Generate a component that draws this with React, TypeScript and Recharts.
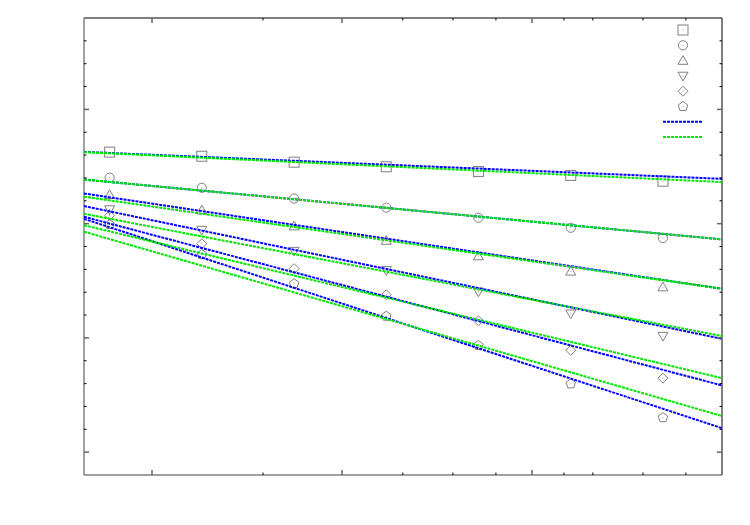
import React from 'react';
import { ComposedChart, Scatter, XAxis, YAxis, Legend } from 'recharts';

// x positions of the measurements (axis units: major ticks at 0, 1, 2)
const xValues = [-0.223, 0.262, 0.748, 1.233, 1.718, 2.204, 2.689];

// measured series (y axis units: major ticks at 0, 5, 10, 15)
const squareSeries = [13.13, 12.95, 12.69, 12.49, 12.28, 12.11, 11.86];
const circleSeries = [12.01, 11.57, 11.1, 10.7, 10.26, 9.82, 9.37];
const triangleUpSeries = [11.26, 10.59, 9.89, 9.26, 8.58, 7.91, 7.22];
const triangleDownSeries = [10.62, 9.72, 8.8, 7.96, 7.02, 6.06, 5.08];
const diamondSeries = [10.36, 9.12, 8.03, 6.89, 5.75, 4.46, 3.24];
const pentagonSeries = [9.96, 8.65, 7.37, 5.95, 4.67, 2.99, 1.51];

// fitted lines: values at the left and right ends of the x range
const fitX = [-0.358, 3];
const blueFitStart = [13.14, 11.93, 11.32, 10.77, 10.3, 10.21];
const blueFitEnd = [11.96, 9.31, 7.15, 4.96, 2.92, 1.05];
const greenFitStart = [13.13, 11.93, 11.18, 10.43, 9.93, 9.65];
const greenFitEnd = [11.82, 9.31, 7.15, 5.08, 3.24, 1.58];

// ticks (no labels in the original)
const xMajorTicks = [0, 1, 2];
const xMinorTicks = [0.584, 1.32, 1.584, 1.81, 2.168, 2.32, 2.584, 2.81];
const yMajorTicks = [0, 5, 10, 15];
const yMinorTicks = [1, 2, 3, 4, 6, 7, 8, 9, 11, 12, 13, 14, 16, 17, 18];

const xDomain = [-0.358, 3];
const yDomain = [-1, 19];

const markerKinds = ['square', 'circle', 'triUp', 'triDown', 'diamond', 'pentagon'];
const seriesList = [squareSeries, circleSeries, triangleUpSeries, triangleDownSeries, diamondSeries, pentagonSeries];

const MARKER = '#808080';
const BLUE = '#0000ff';
const GREEN = '#00e600';

function Marker({ kind, cx, cy }: { kind: string; cx: number; cy: number }) {
  const common = { fill: 'none', stroke: MARKER, strokeWidth: 1 };
  let el: React.ReactNode = null;
  const r = 5;
  if (kind === 'square') {
    el = <rect x={cx - r} y={cy - r} width={2 * r} height={2 * r} {...common} />;
  } else if (kind === 'circle') {
    el = <circle cx={cx} cy={cy} r={4.6} {...common} />;
  } else if (kind === 'triUp') {
    el = <polygon points={`${cx},${cy - 5} ${cx - 5},${cy + 3.7} ${cx + 5},${cy + 3.7}`} {...common} />;
  } else if (kind === 'triDown') {
    el = <polygon points={`${cx},${cy + 5} ${cx - 5},${cy - 3.7} ${cx + 5},${cy - 3.7}`} {...common} />;
  } else if (kind === 'diamond') {
    el = <polygon points={`${cx},${cy - 5} ${cx + 5},${cy} ${cx},${cy + 5} ${cx - 5},${cy}`} {...common} />;
  } else {
    const pts: string[] = [];
    for (let i = 0; i < 5; i++) {
      const a = -Math.PI / 2 + (i * 2 * Math.PI) / 5;
      pts.push(`${cx + 5 * Math.cos(a)},${cy + 5 * Math.sin(a)}`);
    }
    el = <polygon points={pts.join(' ')} {...common} />;
  }
  return (
    <g>
      {el}
      <circle cx={cx} cy={cy} r={0.5} fill={MARKER} />
    </g>
  );
}

const makeTick = (side: string, majors: number[]) => (props: any) => {
  const { x, y, payload } = props;
  const major = majors.includes(payload.value);
  const len = major ? 5 : 2.5;
  let x2 = x;
  let y2 = y;
  if (side === 'bottom') y2 = y - len;
  if (side === 'top') y2 = y + len;
  if (side === 'left') x2 = x + len;
  if (side === 'right') x2 = x - len;
  return (
    <line
      x1={x}
      y1={y}
      x2={x2}
      y2={y2}
      stroke={major ? '#666' : '#000'}
      strokeWidth={major ? 1.5 : 1}
    />
  );
};

const renderLegend = () => (
  <svg width={45} height={125} style={{ display: 'block' }}>
    {markerKinds.map((k, i) => (
      <Marker key={k} kind={k} cx={20} cy={10 + 15.3 * i} />
    ))}
    <line x1={0} x2={40} y1={10 + 15.3 * 6} y2={10 + 15.3 * 6} stroke={BLUE} strokeWidth={2} strokeDasharray="3 1" />
    <line x1={0} x2={40} y1={10 + 15.3 * 7} y2={10 + 15.3 * 7} stroke={GREEN} strokeWidth={2} strokeDasharray="3 1" />
  </svg>
);

export default function App() {
  const xTicks = [...xMajorTicks, ...xMinorTicks].sort((a, b) => a - b);
  const yTicks = [...yMajorTicks, ...yMinorTicks].sort((a, b) => a - b);

  const markerData = seriesList.map((s) => s.map((v, i) => ({ x: xValues[i], y: v })));
  const blueFits = blueFitStart.map((s, i) => [
    { x: fitX[0], y: s },
    { x: fitX[1], y: blueFitEnd[i] },
  ]);
  const greenFits = greenFitStart.map((s, i) => [
    { x: fitX[0], y: s },
    { x: fitX[1], y: greenFitEnd[i] },
  ]);

  return (
    <div style={{ background: '#fff' }}>
      <ComposedChart
        width={734}
        height={509}
        margin={{ top: 0, right: 10, bottom: 12, left: 16 }}
      >
        <XAxis
          xAxisId="b"
          type="number"
          dataKey="x"
          domain={xDomain}
          ticks={xTicks}
          interval={0}
          allowDataOverflow
          height={30}
          tickSize={0}
          tickMargin={0}
          tickLine={false}
          axisLine={{ stroke: '#808080', strokeWidth: 1.5 }}
          tick={makeTick('bottom', xMajorTicks)}
        />
        <XAxis
          xAxisId="t"
          orientation="top"
          type="number"
          dataKey="x"
          domain={xDomain}
          ticks={xTicks}
          interval={0}
          allowDataOverflow
          height={10}
          tickSize={0}
          tickMargin={0}
          tickLine={false}
          axisLine={{ stroke: '#000', strokeWidth: 1 }}
          tick={makeTick('top', xMajorTicks)}
        />
        <YAxis
          yAxisId="l"
          type="number"
          dataKey="y"
          domain={yDomain}
          ticks={yTicks}
          interval={0}
          allowDataOverflow
          width={60}
          tickSize={0}
          tickMargin={0}
          tickLine={false}
          axisLine={{ stroke: '#808080', strokeWidth: 1.5 }}
          tick={makeTick('left', yMajorTicks)}
        />
        <YAxis
          yAxisId="r"
          orientation="right"
          type="number"
          dataKey="y"
          domain={yDomain}
          ticks={yTicks}
          interval={0}
          allowDataOverflow
          width={10}
          tickSize={0}
          tickMargin={0}
          tickLine={false}
          axisLine={{ stroke: '#000', strokeWidth: 1 }}
          tick={makeTick('right', yMajorTicks)}
        />
        {markerData.map((d, i) => (
          <Scatter
            key={`m${i}`}
            xAxisId="b"
            yAxisId="l"
            data={d}
            isAnimationActive={false}
            shape={(p: any) => <Marker kind={markerKinds[i]} cx={p.cx} cy={p.cy} />}
          />
        ))}
        {blueFits.map((d, i) => (
          <Scatter
            key={`b${i}`}
            xAxisId="b"
            yAxisId="l"
            data={d}
            isAnimationActive={false}
            fill={BLUE}
            line={{ stroke: BLUE, strokeWidth: 2, strokeDasharray: '3 1' }}
            shape={() => <g />}
          />
        ))}
        {greenFits.map((d, i) => (
          <Scatter
            key={`g${i}`}
            xAxisId="b"
            yAxisId="l"
            data={d}
            isAnimationActive={false}
            fill={GREEN}
            line={{ stroke: GREEN, strokeWidth: 2, strokeDasharray: '3 1' }}
            shape={() => <g />}
          />
        ))}
        <Legend
          layout="horizontal"
          align="center"
          verticalAlign="middle"
          wrapperStyle={{ left: 655, top: 12, width: 45, height: 125 }}
          content={renderLegend}
        />
      </ComposedChart>
    </div>
  );
}
